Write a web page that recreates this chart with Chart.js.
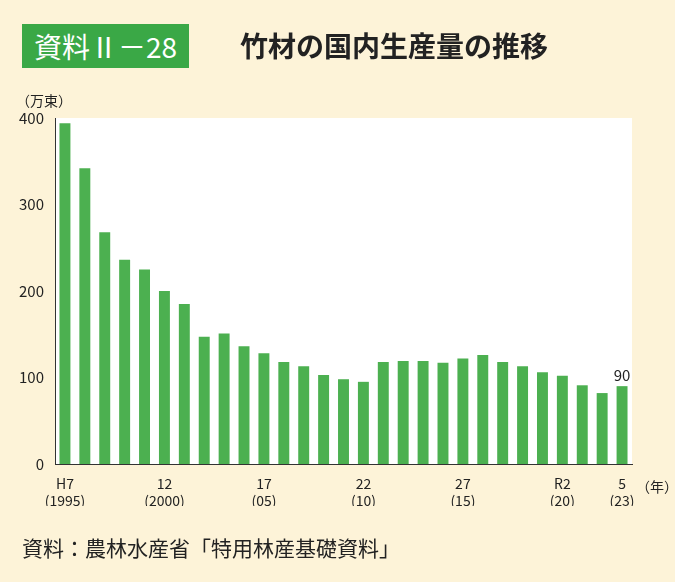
<!DOCTYPE html>
<html>
<head>
<meta charset="utf-8">
<script src="https://cdn.jsdelivr.net/npm/chart.js@4/dist/chart.umd.min.js"></script>
<style>
  body { margin: 0; background: #fdf3d8; font-family: "Noto Sans CJK JP", sans-serif; }
  #wrap { position: relative; width: 675px; height: 582px; }
  #chart { position: absolute; left: 0; top: 0; }
  .badge { position: absolute; left: 22px; top: 24px; background: #3aa846; color: #fff;
           font-size: 28px; padding: 0 12px; height: 44px; line-height: 44px; }
  .title { position: absolute; left: 240px; top: 23px; font-size: 28px; font-weight: bold; color: #222; line-height: 44px; }
  .unit { position: absolute; left: 16px; top: 90px; font-size: 14px; color: #222; }
  .nen { position: absolute; left: 636px; top: 476px; font-size: 14px; color: #222; }
  .src { position: absolute; left: 22px; top: 532px; font-size: 21px; color: #222; }
</style>
</head>
<body>
<div id="wrap">
  <canvas id="chart" width="675" height="582"></canvas>
  <div class="badge">資料Ⅱ－28</div>
  <div class="title">竹材の国内生産量の推移</div>
  <div class="unit">（万束）</div>
  <div class="nen">（年）</div>
  <div class="src">資料：農林水産省「特用林産基礎資料」</div>
</div>
<script>
const years = [1995, 1996, 1997, 1998, 1999, 2000, 2001, 2002, 2003, 2004, 2005, 2006, 2007, 2008, 2009,
               2010, 2011, 2012, 2013, 2014, 2015, 2016, 2017, 2018, 2019, 2020, 2021, 2022, 2023];
const production = [394, 342, 268, 236, 225, 200, 185, 147, 151, 136, 128, 118, 113, 103, 98,
                    95, 118, 119, 119, 117, 122, 126, 118, 113, 106, 102, 91, 82, 90];
const tickLabels = {
    1995: ["H7", "(1995)"], 2000: ["12", "(2000)"], 2005: ["17", "(05)"], 2010: ["22", "(10)"],
    2015: ["27", "(15)"], 2020: ["R2", "(20)"], 2023: ["5", "(23)"]
};

const plotBg = {
    id: "plotBg",
    beforeDraw(chart) {
        const { ctx, chartArea: a } = chart;
        ctx.save();
        ctx.fillStyle = "#ffffff";
        ctx.fillRect(a.left, a.top, a.right - a.left, a.bottom - a.top);
        ctx.restore();
    }
};

const lastLabel = {
    id: "lastLabel",
    afterDatasetsDraw(chart) {
        const ctx = chart.ctx;
        const bars = chart.getDatasetMeta(0).data;
        const bar = bars[bars.length - 1];
        ctx.save();
        ctx.fillStyle = "#222";
        ctx.font = "15px 'Noto Sans CJK JP'";
        ctx.textAlign = "center";
        ctx.textBaseline = "bottom";
        ctx.fillText(production[production.length - 1], bar.x, bar.y - 3);
        ctx.restore();
    }
};

new Chart(document.getElementById("chart"), {
    type: "bar",
    data: {
        labels: years,
        datasets: [{
            data: production,
            backgroundColor: "#4cb050",
            categoryPercentage: 1.0,
            barPercentage: 0.55
        }]
    },
    options: {
        responsive: false,
        animation: false,
        layout: { padding: { left: 0, right: 43, top: 118, bottom: 76 } },
        plugins: { legend: { display: false }, tooltip: { enabled: false } },
        scales: {
            x: {
                grid: { display: false },
                border: { color: "#333" },
                afterFit(s) { s.height = 42; },
                ticks: {
                    autoSkip: false, maxRotation: 0, color: "#222",
                    font: { size: 14, family: "Noto Sans CJK JP" },
                    callback(v, i) { return tickLabels[years[i]] || ""; }
                }
            },
            y: {
                min: 0, max: 400,
                grid: { display: false },
                border: { color: "#333" },
                afterFit(s) { s.width = 55; },
                ticks: { stepSize: 100, color: "#222", font: { size: 15, family: "Noto Sans CJK JP" } }
            }
        }
    },
    plugins: [plotBg, lastLabel]
});
</script>
</body>
</html>
